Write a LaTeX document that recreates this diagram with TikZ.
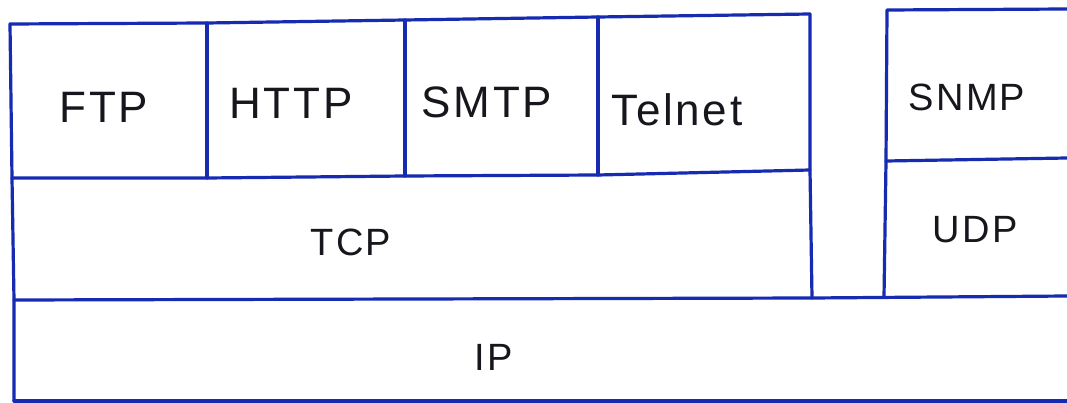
\documentclass[tikz,border=0pt]{standalone}
\usepackage{fontspec}
\newfontfamily\hand[LetterSpace=6]{Liberation Sans}
\definecolor{ink}{RGB}{22,42,178}
\definecolor{pen}{RGB}{22,22,28}
\tikzset{
  ink/.style={draw=ink, line width=3.2pt, line cap=round, line join=round},
  lbl/.style={text=pen, inner sep=0pt, font=\hand\fontsize{44}{48}\selectfont},
  lblsmall/.style={lbl, font=\hand\fontsize{38}{42}\selectfont}
}
\begin{document}
\begin{tikzpicture}[x=1pt, y=-1pt]
  \useasboundingbox[fill=white] (0,0) rectangle (1067,403);

  % application layer row
  \coordinate (a0t) at (10,24);   \coordinate (a0b) at (12,178);
  \coordinate (a1t) at (207,23);  \coordinate (a1b) at (207,178);
  \coordinate (a2t) at (405,20);  \coordinate (a2b) at (405,176);
  \coordinate (a3t) at (598,17);  \coordinate (a3b) at (598,175);
  \coordinate (a4t) at (810,14);  \coordinate (a4b) at (810,170);

  % TCP / IP
  \coordinate (tcpbl) at (14,300);
  \coordinate (tcpbr) at (812,298);
  \coordinate (ipl) at (14,401);
  \coordinate (iptr) at (1067,296);
  \coordinate (ipbr) at (1067,401);

  % SNMP / UDP column
  \coordinate (sntl) at (887,10);  \coordinate (sntr) at (1067,9);
  \coordinate (snbl) at (886,161); \coordinate (snbr) at (1067,158);
  \coordinate (udbl) at (884,297);

  % outlines
  \draw[ink] (a4t) -- (a3t) -- (a2t) -- (a1t) -- (a0t) -- (a0b) -- (tcpbl) -- (ipl);
  \draw[ink] (a0b) -- (a1b) -- (a2b) -- (a3b) -- (a4b);
  \draw[ink] (a1t) -- (a1b);
  \draw[ink] (a2t) -- (a2b);
  \draw[ink] (a3t) -- (a3b);
  \draw[ink] (a4t) -- (a4b) -- (tcpbr);
  \draw[ink] (tcpbl) -- (tcpbr) -- (iptr);
  \draw[ink] (ipl) -- (ipbr);
  \draw[ink] (sntr) -- (sntl) -- (snbl) -- (udbl);
  \draw[ink] (snbl) -- (snbr);

  % labels
  \node[lbl] (ftp)    at (104,107) {FTP};
  \node[lbl] (http)   at (291,103) {HTTP};
  \node[lbl] (smtp)   at (487,102) {SMTP};
  \node[lbl] (telnet) at (677,110) {Telnet};
  \node[lblsmall] (snmp) at (967,97)  {SNMP};
  \node[lblsmall] (udp)  at (975,230) {UDP};
  \node[lblsmall] (tcp)  at (351,242) {TCP};
  \node[lblsmall] (ip)   at (494,357) {IP};
\end{tikzpicture}
\end{document}
